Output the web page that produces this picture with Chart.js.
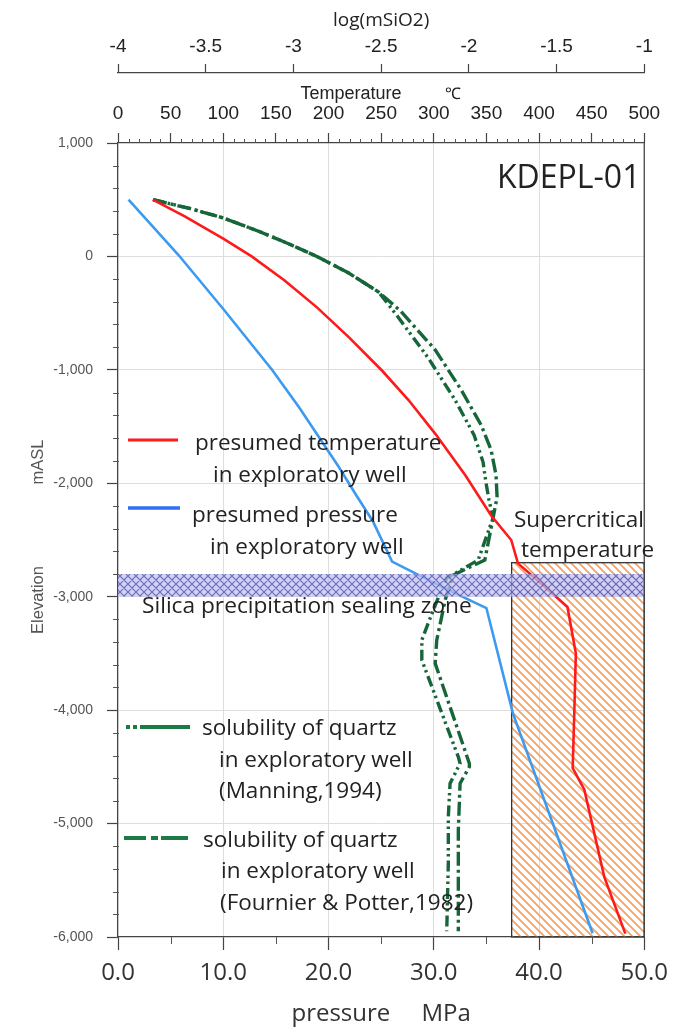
<!DOCTYPE html>
<html>
<head>
<meta charset="utf-8">
<script src="https://cdn.jsdelivr.net/npm/chart.js@4.4.1/dist/chart.umd.min.js"></script>
<style>
  html, body { margin: 0; padding: 0; background: #fff; }
  #wrap { width: 677px; height: 1029px; }
</style>
</head>
<body>
<div id="wrap"><canvas id="profile" width="677" height="1029"></canvas></div>
<script>
// ---- Axis ranges ----
const elevationRange = [-6000, 1000];   // m above sea level
const pressureRange = [0, 50];          // MPa (bottom)
const temperatureRange = [0, 500];      // deg C (top, inner)
const logSilicaRange = [-4, -1];        // log(mSiO2) (top, outer)

// ---- Presumed temperature in the exploratory well ----
const temperatureElevation = [500, 356, 157, 0, -210, -449, -709, -1008, -1266, -1564, -1929, -2284, -2500, -2706, -2898, -3090, -3500, -4030, -4510, -4700, -5470, -5970];
const temperatureC =         [33, 63, 100, 127, 158, 189, 219, 251, 276, 301.5, 330, 354.5, 373.6, 380, 404, 427, 435, 433.5, 432, 443, 462, 482];

// ---- Presumed pressure in the exploratory well ----
const pressureElevation = [500, 10, -466, -1001, -1330, -1856, -2112, -2332, -2690, -2926, -3100, -4028, -5967];
const pressureMPa =       [1.0, 5.77, 10.02, 14.65, 17.2, 20.98, 22.68, 24.2, 26.04, 31.07, 35.0, 37.52, 45.09];

// ---- Quartz solubility, Manning (1994) ----
const manningElevation = [500, 423, 339, 220, 110, 0, -146, -314, -517, -896, -1267, -1575, -1813, -1998, -2148, -2306, -2677, -2836, -3030, -3210, -3383, -3559, -4412, -4470, -4646, -4941, -5349, -5950];
const manningLog =       [-3.80, -3.592, -3.399, -3.195, -3.025, -2.866, -2.685, -2.514, -2.412, -2.231, -2.078, -1.970, -1.919, -1.902, -1.885, -1.862, -1.947, -2.126, -2.18, -2.226, -2.268, -2.268, -2.060, -2.050, -2.107, -2.117, -2.117, -2.126];

// ---- Quartz solubility, Fournier & Potter (1982) ----
const fournierElevation = [500, 423, 339, 220, 110, 0, -146, -314, -481, -825, -1178, -1486, -1707, -1928, -2122, -2306, -2677, -2810, -3030, -3383, -3588, -4470, -4500, -4646, -5058, -5950];
const fournierLog =       [-3.80, -3.592, -3.399, -3.195, -3.025, -2.866, -2.685, -2.514, -2.389, -2.191, -2.043, -1.930, -1.873, -1.845, -1.839, -1.862, -1.909, -2.09, -2.135, -2.183, -2.192, -1.997, -1.997, -2.050, -2.060, -2.060];

// ---- Zones ----
const supercriticalTemp = [374, 500];        // deg C
const supercriticalElevation = [-2700, -6000];
const sealingElevation = [-2800, -3000];

const toPoints = (xs, ys) => xs.map((x, i) => ({ x, y: ys[i] }));

const NARROW = "'Liberation Sans Narrow', 'Arial Narrow', 'Liberation Sans', Arial, sans-serif";
const SANS = "'Liberation Sans', Arial, sans-serif";
const BODY = "'Open Sans', 'Noto Sans', sans-serif";
const GREEN = '#17663a';

function stripePattern(ctx) {
  const s = 8, c = document.createElement('canvas');
  c.width = s; c.height = s;
  const g = c.getContext('2d');
  g.strokeStyle = '#f3a062';
  g.lineWidth = 1.7;
  g.beginPath();
  g.moveTo(-2, -2); g.lineTo(s + 2, s + 2);
  g.moveTo(-2, s - 2); g.lineTo(2, s + 2);
  g.moveTo(s - 2, -2); g.lineTo(s + 2, 2);
  g.stroke();
  return ctx.createPattern(c, 'repeat');
}

function crossPattern(ctx) {
  const s = 8, c = document.createElement('canvas');
  c.width = s; c.height = s;
  const g = c.getContext('2d');
  g.fillStyle = 'rgba(190,190,245,0.72)';
  g.fillRect(0, 0, s, s);
  g.strokeStyle = 'rgba(65,65,150,0.7)';
  g.lineWidth = 1.1;
  g.beginPath();
  g.moveTo(-2, -2); g.lineTo(s + 2, s + 2);
  g.moveTo(-2, s - 2); g.lineTo(2, s + 2);
  g.moveTo(s - 2, -2); g.lineTo(s + 2, 2);
  g.moveTo(-2, s + 2); g.lineTo(s + 2, -2);
  g.moveTo(-2, 2); g.lineTo(2, -2);
  g.moveTo(s - 2, s + 2); g.lineTo(s + 2, s - 2);
  g.stroke();
  return ctx.createPattern(c, 'repeat');
}

function text(ctx, str, x, y, size, opts = {}) {
  ctx.font = `${opts.weight || 'normal'} ${size}px ${opts.family || BODY}`;
  ctx.fillStyle = opts.color || '#222';
  ctx.textAlign = opts.align || 'left';
  ctx.textBaseline = 'alphabetic';
  ctx.fillText(str, x, y);
}

function legendLine(ctx, x0, x1, y, color, width, dash) {
  ctx.save();
  ctx.strokeStyle = color;
  ctx.lineWidth = width;
  ctx.setLineDash(dash || []);
  ctx.beginPath();
  ctx.moveTo(x0, y); ctx.lineTo(x1, y);
  ctx.stroke();
  ctx.restore();
}

const profileDecor = {
  id: 'profileDecor',
  beforeDatasetsDraw(chart) {
    const { ctx, scales: { xT, y } } = chart;
    const x0 = xT.getPixelForValue(supercriticalTemp[0]);
    const x1 = xT.getPixelForValue(supercriticalTemp[1]);
    const y0 = y.getPixelForValue(supercriticalElevation[0]);
    const y1 = y.getPixelForValue(supercriticalElevation[1]);
    ctx.save();
    ctx.fillStyle = stripePattern(ctx);
    ctx.fillRect(x0, y0, x1 - x0, y1 - y0);
    ctx.strokeStyle = '#333';
    ctx.lineWidth = 1.3;
    ctx.strokeRect(x0, y0, x1 - x0, y1 - y0);
    ctx.restore();
  },
  afterDatasetsDraw(chart) {
    const { ctx, chartArea: a, scales: { x, xT, y } } = chart;
    ctx.save();

    // silica sealing band
    const b0 = y.getPixelForValue(sealingElevation[0]);
    const b1 = y.getPixelForValue(sealingElevation[1]);
    ctx.fillStyle = crossPattern(ctx);
    ctx.fillRect(a.left, b0, a.right - a.left, b1 - b0);

    // right frame line
    ctx.strokeStyle = '#444';
    ctx.lineWidth = 1.3;
    ctx.beginPath();
    ctx.moveTo(a.right, a.top); ctx.lineTo(a.right, a.bottom);
    ctx.stroke();

    // minor ticks
    ctx.strokeStyle = '#555';
    ctx.lineWidth = 1;
    ctx.beginPath();
    for (let v = elevationRange[0]; v <= elevationRange[1]; v += 200) {
      if (v % 1000 === 0) continue;
      const py = Math.round(y.getPixelForValue(v)) + 0.5;
      ctx.moveTo(a.left - 5, py); ctx.lineTo(a.left + 1, py);
    }
    for (let v = 5; v < pressureRange[1]; v += 10) {
      const px = Math.round(x.getPixelForValue(v)) + 0.5;
      ctx.moveTo(px, a.bottom); ctx.lineTo(px, a.bottom + 7);
    }
    for (let v = 10; v < temperatureRange[1]; v += 10) {
      if (v % 50 === 0) continue;
      const px = Math.round(xT.getPixelForValue(v)) + 0.5;
      ctx.moveTo(px, a.top); ctx.lineTo(px, a.top - 4);
    }
    ctx.stroke();

    // axis captions
    text(ctx, 'Temperature', 351, 99, 18, { family: NARROW, align: 'center' });
    text(ctx, '\u2103', 453, 99, 16, { family: SANS, align: 'center' });
    ctx.save();
    ctx.translate(43, 462); ctx.rotate(-Math.PI / 2);
    text(ctx, 'mASL', 0, 0, 16.5, { family: SANS, color: '#555', align: 'center' });
    ctx.restore();
    ctx.save();
    ctx.translate(43, 600); ctx.rotate(-Math.PI / 2);
    text(ctx, 'Elevation', 0, 0, 16.5, { family: SANS, color: '#555', align: 'center' });
    ctx.restore();

    // annotations
    text(ctx, 'KDEPL-01', 497, 188, 32);
    text(ctx, 'Supercritical', 514, 527, 22.5);
    text(ctx, 'temperature', 521, 557, 22.5);
    text(ctx, 'Silica precipitation sealing zone', 142, 613, 22.7);

    // legend
    legendLine(ctx, 128, 178, 440, '#ff1a1a', 3);
    text(ctx, 'presumed temperature', 195, 450, 22.5);
    text(ctx, 'in exploratory well', 213, 482, 22.5);

    legendLine(ctx, 128, 180, 508, '#2f6ff0', 3.6);
    text(ctx, 'presumed pressure', 192, 522, 22.5);
    text(ctx, 'in exploratory well', 210, 554, 22.5);

    legendLine(ctx, 126, 190, 727, '#1e7a45', 4, [4, 3, 4, 3, 60]);
    text(ctx, 'solubility of quartz', 202, 735, 22.5);
    text(ctx, 'in exploratory well', 219, 767, 22.5);
    text(ctx, '(Manning,1994)', 219, 798, 22.5);

    legendLine(ctx, 124, 188, 838, '#1e7a45', 4, [22, 5, 7, 3, 27]);
    text(ctx, 'solubility of quartz', 203, 847, 22.5);
    text(ctx, 'in exploratory well', 221, 878, 22.5);
    text(ctx, '(Fournier & Potter,1982)', 220, 910, 22.5);

    ctx.restore();
  }
};

const gridColor = (lo, hi) => (c) => (c.tick && (c.tick.value === lo || c.tick.value === hi)) ? 'rgba(0,0,0,0)' : '#dedede';

new Chart(document.getElementById('profile'), {
  type: 'line',
  data: {
    datasets: [
      {
        label: 'presumed temperature in exploratory well',
        data: toPoints(temperatureC, temperatureElevation),
        xAxisID: 'xT', yAxisID: 'y',
        borderColor: '#ff1a1a', borderWidth: 2.6,
        pointRadius: 0, fill: false, tension: 0
      },
      {
        label: 'presumed pressure in exploratory well',
        data: toPoints(pressureMPa, pressureElevation),
        xAxisID: 'x', yAxisID: 'y',
        borderColor: '#3c9af0', borderWidth: 2.6,
        pointRadius: 0, fill: false, tension: 0
      },
      {
        label: 'solubility of quartz in exploratory well (Manning,1994)',
        data: toPoints(manningLog, manningElevation),
        xAxisID: 'xL', yAxisID: 'y',
        borderColor: GREEN, borderWidth: 3.4, borderDash: [11, 4, 2.5, 3.5, 2.5, 4],
        pointRadius: 0, fill: false, tension: 0
      },
      {
        label: 'solubility of quartz in exploratory well (Fournier & Potter,1982)',
        data: toPoints(fournierLog, fournierElevation),
        xAxisID: 'xL', yAxisID: 'y',
        borderColor: GREEN, borderWidth: 3.4, borderDash: [14, 4, 3, 4],
        pointRadius: 0, fill: false, tension: 0
      }
    ]
  },
  options: {
    responsive: false,
    animation: false,
    devicePixelRatio: 1,
    layout: { padding: { left: 0, right: 30, top: 0, bottom: 0 } },
    plugins: { legend: { display: false }, tooltip: { enabled: false } },
    scales: {
      x: {
        type: 'linear', axis: 'x', position: 'bottom',
        min: pressureRange[0], max: pressureRange[1],
        ticks: { stepSize: 10, autoSkip: false, maxRotation: 0, padding: 9,
          callback: (v) => Number(v).toFixed(1),
          font: { family: BODY, size: 24 }, color: '#333' },
        grid: { color: gridColor(0, 50), lineWidth: 1, tickColor: '#444', tickLength: 13, tickWidth: 1.2 },
        border: { color: '#444', width: 1.3 },
        title: { display: true, text: 'pressure     MPa', font: { family: BODY, size: 24 }, color: '#333', padding: { top: 0, bottom: 0 } },
        afterFit(s) { s.height = 92; }
      },
      xT: {
        type: 'linear', axis: 'x', position: 'top', weight: 0,
        min: temperatureRange[0], max: temperatureRange[1],
        ticks: { stepSize: 50, autoSkip: false, maxRotation: 0, padding: 8,
          font: { family: NARROW, size: 19 }, color: '#222' },
        grid: { drawOnChartArea: false, tickColor: '#444', tickLength: 10, tickWidth: 1.2 },
        border: { color: '#444', width: 1.3 },
        afterFit(s) { s.height = 70; }
      },
      xL: {
        type: 'linear', axis: 'x', position: 'top', weight: 1,
        min: logSilicaRange[0], max: logSilicaRange[1],
        ticks: { stepSize: 0.5, autoSkip: false, maxRotation: 0, padding: 6,
          callback: (v) => String(Math.round(Number(v) * 100) / 100),
          font: { family: NARROW, size: 19 }, color: '#222' },
        grid: { drawOnChartArea: false, tickColor: '#444', tickLength: 9, tickWidth: 1.2 },
        border: { color: '#444', width: 1.3 },
        title: { display: true, text: 'log(mSiO2)', font: { family: BODY, size: 19 }, color: '#222', padding: { top: 9, bottom: 0 } },
        afterFit(s) { s.height = 73; }
      },
      y: {
        type: 'linear', axis: 'y', position: 'left',
        min: elevationRange[0], max: elevationRange[1],
        ticks: { stepSize: 1000, autoSkip: false, padding: 14,
          callback: (v) => Number(v).toLocaleString('en-US'),
          font: { family: SANS, size: 14 }, color: '#555' },
        grid: { color: gridColor(-6000, 1000), lineWidth: 1, tickColor: '#444', tickLength: 11, tickWidth: 1.2 },
        border: { color: '#444', width: 1.3 },
        afterFit(s) { s.width = 118; }
      }
    }
  },
  plugins: [profileDecor]
});
</script>
</body>
</html>
